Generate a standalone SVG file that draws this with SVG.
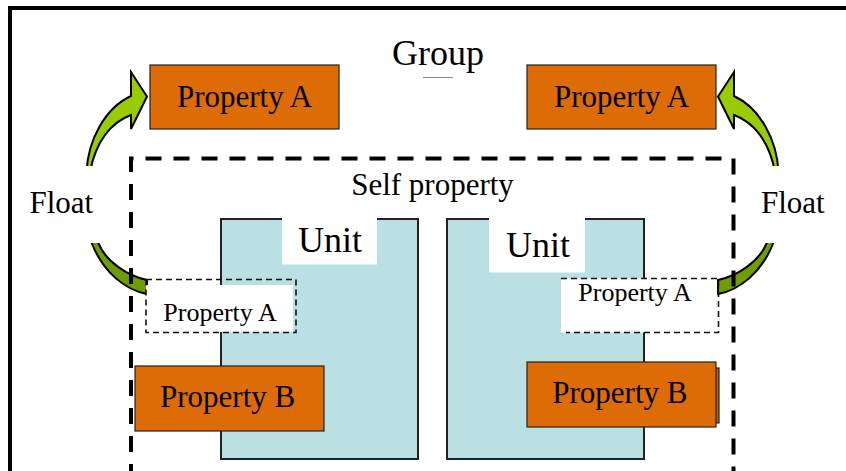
<svg xmlns="http://www.w3.org/2000/svg" width="846" height="471" viewBox="0 0 846 471">
<style>
text{font-family:"Liberation Serif","Times New Roman",serif;fill:#000}
.prop{fill:#dd6c06;stroke:#222;stroke-width:1.2}
.unit{fill:#bbe0e3;stroke:#222;stroke-width:2}
.lbl{fill:#fff;stroke:none}
.light{fill:#99cc00;stroke:#000;stroke-width:2;stroke-linejoin:miter}
.dark{fill:#6f9c00;stroke:#000;stroke-width:2}
.selfbox{fill:none;stroke:#000;stroke-width:4;stroke-dasharray:16 12}
.smalldash{fill:none;stroke:#111;stroke-width:1.6;stroke-dasharray:6 4}
</style>
<rect x="0" y="0" width="846" height="471" fill="#fff"/>
<rect id="frame" x="10" y="8" width="900" height="500" fill="none" stroke="#000" stroke-width="4"/>

<g id="group-label">
<text x="438" y="65" font-size="36" text-anchor="middle">Group</text>
<line x1="423" y1="77.5" x2="453" y2="77.5" stroke="#888" stroke-width="1"/>
</g>

<g id="connectors">
<g id="float-left">
<path class="dark" d="M91.7,238 L91.7,243 C103,272 125,290 147,294 L147,280 C128,276 106,262 98.3,243 L98,238 Z"/>
<path class="light" d="M86.5,172 C88,140 105,108 131,96 L131,72 L147,96.5 L131,129 L131,115 C112,122 96,140 90,172 Z"/>
</g>
<g id="float-right" transform="translate(865,0) scale(-1,1)">
<path class="dark" d="M91.7,238 L91.7,243 C103,272 125,290 147,294 L147,280 C128,276 106,262 98.3,243 L98,238 Z"/>
<path class="light" d="M86.5,172 C88,140 105,108 131,96 L131,72 L147,96.5 L131,129 L131,115 C112,122 96,140 90,172 Z"/>
</g>
</g>

<g id="float-left-label">
<rect class="lbl" x="14" y="166" width="96" height="77"/>
<text x="29.5" y="213" font-size="31">Float</text>
</g>
<g id="float-right-label">
<rect class="lbl" x="755" y="166" width="91" height="77"/>
<text x="761" y="213" font-size="31">Float</text>
</g>

<g id="prop-a-top-left">
<rect class="prop" x="150" y="65" width="189" height="64"/>
<text x="244.5" y="107" font-size="31" text-anchor="middle">Property A</text>
</g>
<g id="prop-a-top-right">
<rect class="prop" x="527" y="65" width="189" height="64"/>
<text x="621.6" y="107" font-size="31" text-anchor="middle">Property A</text>
</g>

<g id="self-property">
<path class="selfbox" d="M131,480 L131,158.5 L733.5,158.5 L733.5,480"/>
<text x="432.5" y="195" font-size="31" text-anchor="middle">Self property</text>
</g>

<g id="unit-left">
<rect class="unit" x="221" y="219" width="197" height="240"/>
<rect class="lbl" x="282" y="217.5" width="95" height="47"/>
<text x="298" y="252" font-size="36">Unit</text>
</g>
<g id="unit-right">
<rect class="unit" x="447" y="219" width="197" height="240"/>
<rect class="lbl" x="489" y="217.5" width="96" height="55"/>
<text x="506" y="257" font-size="36">Unit</text>
</g>

<g id="prop-a-float-left">
<rect class="lbl" x="146" y="285" width="147" height="47"/>
<rect class="smalldash" x="146" y="279.5" width="150" height="53"/>
<text x="163.3" y="321" font-size="26">Property A</text>
</g>
<g id="prop-a-float-right">
<rect class="lbl" x="561" y="278.5" width="155" height="54"/>
<path class="smalldash" d="M561,278.5 L718.5,278.5 L718.5,332.5 L566,332.5"/>
<text x="578.3" y="300.7" font-size="26">Property A</text>
</g>

<g id="prop-b-left">
<rect class="prop" x="135" y="366" width="189" height="65"/>
<text x="160" y="407" font-size="31">Property B</text>
</g>
<g id="prop-b-right">
<rect x="530" y="368" width="189" height="55" fill="#c46000" stroke="#222" stroke-width="1.2"/>
<rect class="prop" x="527" y="362" width="189" height="65"/>
<text x="552.3" y="403.3" font-size="31">Property B</text>
</g>
</svg>
